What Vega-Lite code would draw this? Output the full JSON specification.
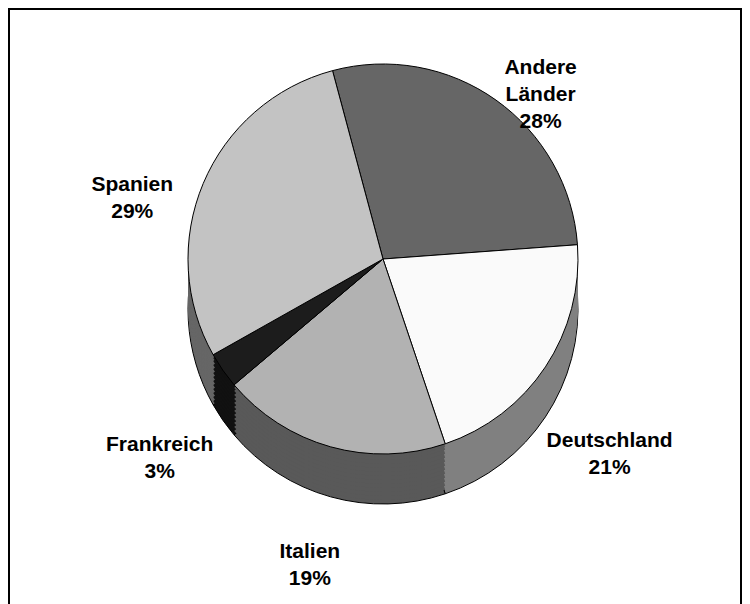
{
  "$schema": "https://vega.github.io/schema/vega-lite/v6.json",
  "width": 732,
  "height": 600,
  "padding": {"left": 9, "top": 9, "right": 9, "bottom": 0},
  "background": "white",
  "view": {"stroke": "black", "strokeWidth": 2, "fill": "white"},
  "config": {"view": {"stroke": "black", "strokeWidth": 2}},
  "data": {
    "values": [
      {"name": "Andere Länder", "label": "Andere\nLänder\n28%", "value": 28, "idx": 1},
      {"name": "Deutschland", "label": "Deutschland\n21%", "value": 21, "idx": 2},
      {"name": "Italien", "label": "Italien\n19%", "value": 19, "idx": 3},
      {"name": "Frankreich", "label": "Frankreich\n3%", "value": 3, "idx": 4},
      {"name": "Spanien", "label": "Spanien\n29%", "value": 29, "idx": 5}
    ]
  },
  "encoding": {
    "theta": {"field": "value", "type": "quantitative", "stack": true, "scale": {"range": [-0.2618, 6.0214]}},
    "order": {"field": "idx", "type": "quantitative"},
    "color": {"field": "name", "type": "nominal", "legend": null,
      "scale": {"domain": ["Andere Länder", "Deutschland", "Italien", "Frankreich", "Spanien"],
                "range": ["#4d4d4d", "#808080", "#595959", "#111111", "#666666"]}}
  },
  "layer": [
    {"mark": {"type": "arc", "outerRadius": 195, "xOffset": 8, "yOffset": 0, "stroke": "black", "strokeWidth": 1}},
    {"mark": {"type": "arc", "outerRadius": 195, "xOffset": 8, "yOffset": -4}},
    {"mark": {"type": "arc", "outerRadius": 195, "xOffset": 8, "yOffset": -8}},
    {"mark": {"type": "arc", "outerRadius": 195, "xOffset": 8, "yOffset": -12}},
    {"mark": {"type": "arc", "outerRadius": 195, "xOffset": 8, "yOffset": -16}},
    {"mark": {"type": "arc", "outerRadius": 195, "xOffset": 8, "yOffset": -20}},
    {"mark": {"type": "arc", "outerRadius": 195, "xOffset": 8, "yOffset": -24}},
    {"mark": {"type": "arc", "outerRadius": 195, "xOffset": 8, "yOffset": -28}},
    {"mark": {"type": "arc", "outerRadius": 195, "xOffset": 8, "yOffset": -32}},
    {"mark": {"type": "arc", "outerRadius": 195, "xOffset": 8, "yOffset": -36}},
    {"mark": {"type": "arc", "outerRadius": 195, "xOffset": 8, "yOffset": -40}},
    {"mark": {"type": "arc", "outerRadius": 195, "xOffset": 8, "yOffset": -44}},
    {"mark": {"type": "arc", "outerRadius": 195, "xOffset": 8, "yOffset": -47}},
    {
      "mark": {"type": "arc", "outerRadius": 195, "xOffset": 8, "yOffset": -50, "stroke": "black", "strokeWidth": 1},
      "encoding": {
        "fill": {"field": "name", "type": "nominal", "legend": null,
          "scale": {"domain": ["Andere Länder", "Deutschland", "Italien", "Frankreich", "Spanien"],
                    "range": ["#666666", "#fafafa", "#b2b2b2", "#1c1c1c", "#c3c3c3"]}}
      }
    },
    {
      "mark": {"type": "text", "radius": 272, "xOffset": 8, "yOffset": -19, "font": "Liberation Sans", "fontWeight": "bold", "fontSize": 21, "lineHeight": 27, "lineBreak": "\n", "align": "center", "baseline": "middle", "color": "black"},
      "encoding": {
        "color": {"value": "black"},
        "text": {"field": "label", "type": "nominal"},
        "detail": {"field": "name", "type": "nominal"}
      }
    }
  ]
}
